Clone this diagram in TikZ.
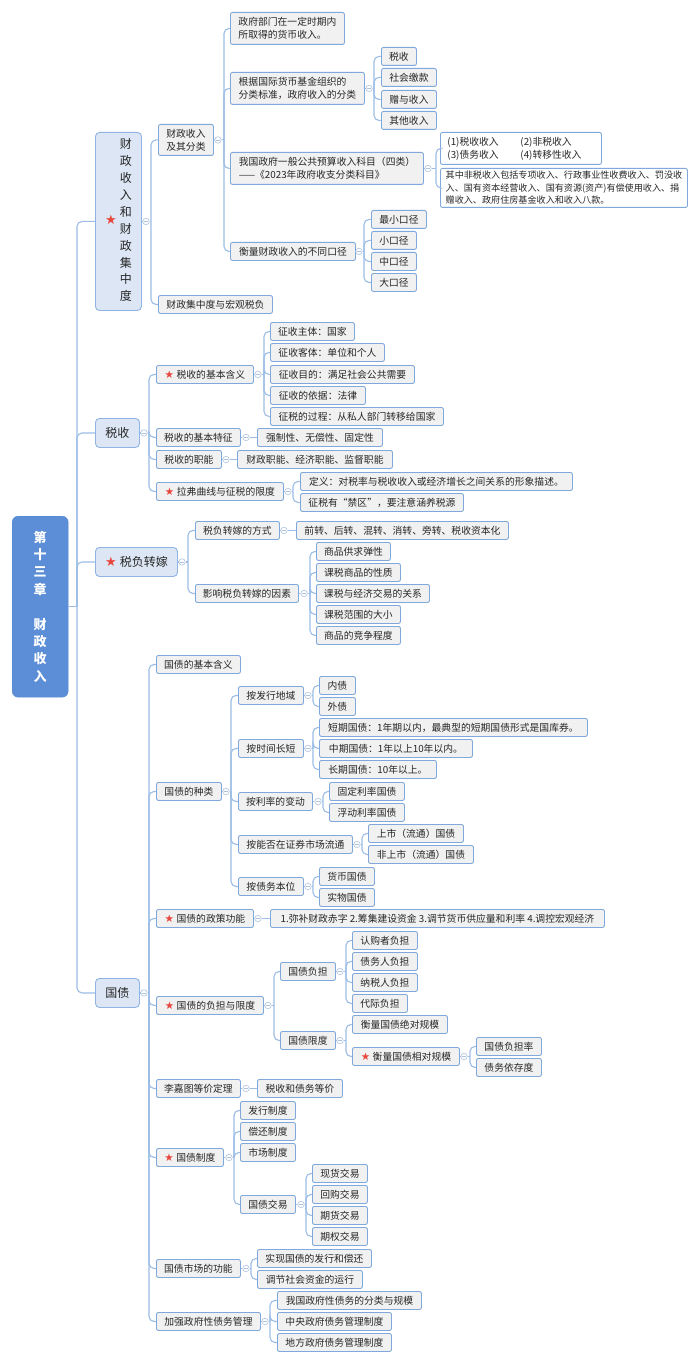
\documentclass[tikz,border=0pt]{standalone}
\usepackage{fontspec}
\setmainfont{Noto Sans CJK SC}
\newfontfamily\symf{DejaVu Sans}
\definecolor{conncol}{HTML}{9CBDE6}
\definecolor{bxline}{HTML}{7FA8DC}
\definecolor{bxfill}{HTML}{F1F1F1}
\definecolor{lfill}{HTML}{DCE6F4}
\definecolor{lline}{HTML}{8FB4E3}
\definecolor{rootfill}{HTML}{5B8ED6}
\definecolor{rootline}{HTML}{5487D0}
\definecolor{txt}{HTML}{262626}
\definecolor{starred}{HTML}{E8463C}
\definecolor{mkcol}{HTML}{AFC3DF}
\newcommand\st{{\symf\fontsize{10.5}{10}\selectfont\textcolor{starred}{★}}\hspace{2.5pt}}
\newcommand\stL{{\symf\fontsize{13}{12}\selectfont\textcolor{starred}{★}}\hspace{3pt}}
\newcommand\bx[7][box]{\node[#1, minimum width={#5-#3}, minimum height={#6-#4}, anchor=north west] (#2) at (#3,#4) {#7};}
\newcommand\fan[4]{%
  \node[marker] (mk-#1) at (#2,0 |- #1.east) {};
  \draw[conn] (#1.east) -- (mk-#1.west);
  \draw[conn] (mk-#1.east) -- (#3,0 |- #1.east);
  \foreach \c in {#4} {\draw[conn] (#3,0 |- #1.east) |- (\c.west);}
}
\newcommand\fanone[3]{%
  \node[marker] (mk-#1) at (#2,0 |- #1.east) {};
  \draw[conn] (#1.east) -- (mk-#1.west);
  \draw[conn] (mk-#1.east) -- (#3.west);
}
\tikzset{
  base/.style={draw=bxline, line width=0.9pt, rounded corners=2pt, inner sep=0pt, text=txt, font=\fontsize{9.8}{13}\selectfont, align=left},
  box/.style={base, fill=bxfill},
  wbox/.style={base, fill=white},
  wsmall/.style={base, fill=white, font=\fontsize{9.1}{12.5}\selectfont},
  lone/.style={base, fill=lfill, draw=lline, rounded corners=4pt, font=\fontsize{12}{16.9}\selectfont},
  rootbox/.style={fill=rootfill, draw=rootline, rounded corners=6pt, text=white, font=\fontsize{13}{17.4}\selectfont\bfseries, inner sep=0pt, align=center},
  conn/.style={draw=conncol, line width=1.1pt, rounded corners=5pt},
  marker/.style={circle, draw=mkcol, fill=white, minimum size=6.5pt, inner sep=0pt, line width=0.6pt,
    path picture={\draw[mkcol, line width=0.6pt] ([xshift=-1.8pt]path picture bounding box.center) -- ([xshift=1.8pt]path picture bounding box.center);}}
}
\begin{document}
\begin{tikzpicture}[x=1pt, y=-1pt]
\useasboundingbox[fill=white] (0,0) rectangle (700,1364);

% root
\bx[rootbox]{root}{12}{516}{68}{697}{第\\十\\三\\章\\\mbox{}\\财\\政\\收\\入}

% level 1
\bx[lone]{L1}{95}{132}{141}{310}{\stL\begin{tabular}{@{}c@{}}财\\政\\收\\入\\和\\财\\政\\集\\中\\度\end{tabular}}
\bx[lone]{L2}{95}{418}{139}{447}{税收}
\bx[lone]{L3}{95}{547}{177}{576}{\stL 税负转嫁}
\bx[lone]{L4}{95}{978}{139}{1007}{国债}

\draw[conn] (root.east) -- (77,0 |- root.east);
\foreach \c in {L1,L2,L3,L4} {\draw[conn] (77,0 |- root.east) |- (\c.west);}

% ---- branch 1
\bx{A1}{158}{124}{213}{155}{财政收入\\及其分类}
\bx{A2}{158}{295}{272}{313}{财政集中度与宏观税负}
\fan{L1}{146}{151}{A1,A2}

\bx{B1}{230}{12}{344}{44}{政府部门在一定时期内\\所取得的货币收入。}
\bx{B2}{230}{72}{364}{104}{根据国际货币基金组织的\\分类标准，政府收入的分类}
\bx{B3}{230}{152}{423}{184}{我国政府一般公共预算收入科目（四类）\\——《2023年政府收支分类科目》}
\bx{B4}{230}{242}{355}{260}{衡量财政收入的不同口径}
\fan{A1}{218}{224}{B1,B2,B3,B4}

\bx{C1}{381}{47}{416}{65}{税收}
\bx{C2}{381}{68}{436}{86}{社会缴款}
\bx{C3}{381}{90}{436}{108}{赠与收入}
\bx{C4}{381}{111}{436}{129}{其他收入}
\fan{B2}{369}{374}{C1,C2,C3,C4}

\bx[wbox, text width=147pt]{D1}{440}{132}{601}{164}{\makebox[73pt][l]{(1)税收收入}(2)非税收入\\\makebox[73pt][l]{(3)债务收入}(4)转移性收入}
\bx[wsmall]{D2}{440}{168}{687}{207}{其中非税收入包括专项收入、行政事业性收费收入、罚没收\\入、国有资本经营收入、国有资源(资产)有偿使用收入、捐\\赠收入、政府住房基金收入和收入八款。}
\fan{B3}{428}{436}{D1,D2}

\bx{E1}{371}{210}{426}{228}{最小口径}
\bx{E2}{371}{231}{416}{249}{小口径}
\bx{E3}{371}{252}{416}{270}{中口径}
\bx{E4}{371}{273}{416}{291}{大口径}
\fan{B4}{359}{364}{E1,E2,E3,E4}

% ---- branch 2
\bx{F1}{156}{365}{253}{383}{\st 税收的基本含义}
\bx{F2}{156}{428}{240}{446}{税收的基本特征}
\bx{F3}{156}{450}{221}{468}{税收的职能}
\bx{F4}{156}{482}{283}{500}{\st 拉弗曲线与征税的限度}
\fan{L2}{144}{149}{F1,F2,F3,F4}

\bx{G1}{270}{322}{354}{340}{征收主体：国家}
\bx{G2}{270}{343}{384}{361}{征收客体：单位和个人}
\bx{G3}{270}{365}{414}{383}{征收目的：满足社会公共需要}
\bx{G4}{270}{386}{365}{404}{征收的依据：法律}
\bx{G5}{270}{407}{443}{425}{征税的过程：从私人部门转移给国家}
\fan{F1}{258}{264}{G1,G2,G3,G4,G5}

\bx{G6}{257}{428}{382}{446}{强制性、无偿性、固定性}
\fanone{F2}{246}{G6}
\bx{G7}{237}{450}{392}{468}{财政职能、经济职能、监督职能}
\fanone{F3}{226}{G7}

\bx{G8}{300}{472}{572}{490}{定义：对税率与税收收入或经济增长之间关系的形象描述。}
\bx{G9}{300}{493}{463}{511}{征税有“禁区”，要注意涵养税源}
\fan{F4}{288}{293}{G8,G9}

% ---- branch 3
\bx{H1}{195}{521}{279}{539}{税负转嫁的方式}
\bx{H2}{195}{584}{298}{602}{影响税负转嫁的因素}
\fan{L3}{182}{188}{H1,H2}

\bx{I0}{296}{521}{508}{539}{前转、后转、混转、消转、旁转、税收资本化}
\fanone{H1}{284}{I0}

\bx{I1}{316}{542}{390}{560}{商品供求弹性}
\bx{I2}{316}{563}{400}{581}{课税商品的性质}
\bx{I3}{316}{584}{429}{602}{课税与经济交易的关系}
\bx{I4}{316}{605}{400}{623}{课税范围的大小}
\bx{I5}{316}{626}{400}{644}{商品的竞争程度}
\fan{H2}{304}{310}{I1,I2,I3,I4,I5}

% ---- branch 4
\bx{J1}{156}{655}{240}{673}{国债的基本含义}
\bx{J2}{156}{782}{221}{800}{国债的种类}
\bx{J3}{156}{909}{253}{927}{\st 国债的政策功能}
\bx{J4}{156}{996}{263}{1014}{\st 国债的负担与限度}
\bx{J5}{156}{1079}{240}{1097}{李嘉图等价定理}
\bx{J6}{156}{1148}{223}{1166}{\st 国债制度}
\bx{J7}{156}{1259}{240}{1277}{国债市场的功能}
\bx{J8}{156}{1312}{260}{1330}{加强政府性债务管理}
\fan{L4}{144}{149}{J1,J2,J3,J4,J5,J6,J7,J8}

\bx{K1}{238}{686}{303}{704}{按发行地域}
\bx{K2}{238}{739}{303}{757}{按时间长短}
\bx{K3}{238}{792}{312}{810}{按利率的变动}
\bx{K4}{238}{835}{352}{853}{按能否在证券市场流通}
\bx{K5}{238}{877}{303}{895}{按债务本位}
\fan{J2}{226}{231}{K1,K2,K3,K4,K5}

\bx{K11}{319}{676}{355}{694}{内债}
\bx{K12}{319}{697}{355}{715}{外债}
\fan{K1}{308}{313}{K11,K12}

\bx{K21}{319}{718}{587}{736}{短期国债：1年期以内，最典型的短期国债形式是国库券。}
\bx{K22}{319}{739}{472}{757}{中期国债：1年以上10年以内。}
\bx{K23}{319}{760}{436}{778}{长期国债：10年以上。}
\fan{K2}{308}{313}{K21,K22,K23}

\bx{K31}{329}{782}{404}{800}{固定利率国债}
\bx{K32}{329}{803}{404}{821}{浮动利率国债}
\fan{K3}{318}{323}{K31,K32}

\bx{K41}{368}{824}{463}{842}{上市（流通）国债}
\bx{K42}{368}{845}{473}{863}{非上市（流通）国债}
\fan{K4}{357}{362}{K41,K42}

\bx{K51}{319}{867}{374}{885}{货币国债}
\bx{K52}{319}{888}{374}{906}{实物国债}
\fan{K5}{308}{313}{K51,K52}

\bx{J31}{270}{909}{604}{927}{1.弥补财政赤字 2.筹集建设资金 3.调节货币供应量和利率 4.调控宏观经济}
\fanone{J3}{258}{J31}

\bx{M1}{280}{962}{335}{980}{国债负担}
\bx{M2}{280}{1031}{335}{1049}{国债限度}
\fan{J4}{268}{274}{M1,M2}

\bx{M11}{352}{931}{417}{949}{认购者负担}
\bx{M12}{352}{952}{417}{970}{债务人负担}
\bx{M13}{352}{973}{417}{991}{纳税人负担}
\bx{M14}{352}{994}{407}{1012}{代际负担}
\fan{M1}{340}{346}{M11,M12,M13,M14}

\bx{N1}{352}{1015}{447}{1033}{衡量国债绝对规模}
\bx{N2}{352}{1047}{459}{1065}{\st 衡量国债相对规模}
\fan{M2}{340}{346}{N1,N2}

\bx{N21}{476}{1037}{541}{1055}{国债负担率}
\bx{N22}{476}{1058}{541}{1076}{债务依存度}
\fan{N2}{464}{470}{N21,N22}

\bx{J51}{257}{1079}{342}{1097}{税收和债务等价}
\fanone{J5}{246}{J51}

\bx{P1}{240}{1101}{295}{1119}{发行制度}
\bx{P2}{240}{1122}{295}{1140}{偿还制度}
\bx{P3}{240}{1143}{295}{1161}{市场制度}
\bx{P4}{240}{1195}{295}{1213}{国债交易}
\fan{J6}{229}{234}{P1,P2,P3,P4}

\bx{P41}{312}{1164}{367}{1182}{现货交易}
\bx{P42}{312}{1185}{367}{1203}{回购交易}
\bx{P43}{312}{1206}{367}{1224}{期货交易}
\bx{P44}{312}{1227}{367}{1245}{期权交易}
\fan{P4}{301}{306}{P41,P42,P43,P44}

\bx{Q1}{257}{1249}{371}{1267}{实现国债的发行和偿还}
\bx{Q2}{257}{1270}{362}{1288}{调节社会资金的运行}
\fan{J7}{246}{251}{Q1,Q2}

\bx{R1}{277}{1291}{421}{1309}{我国政府性债务的分类与规模}
\bx{R2}{277}{1312}{391}{1330}{中央政府债务管理制度}
\bx{R3}{277}{1333}{391}{1351}{地方政府债务管理制度}
\fan{J8}{265}{270}{R1,R2,R3}
\end{tikzpicture}
\end{document}
